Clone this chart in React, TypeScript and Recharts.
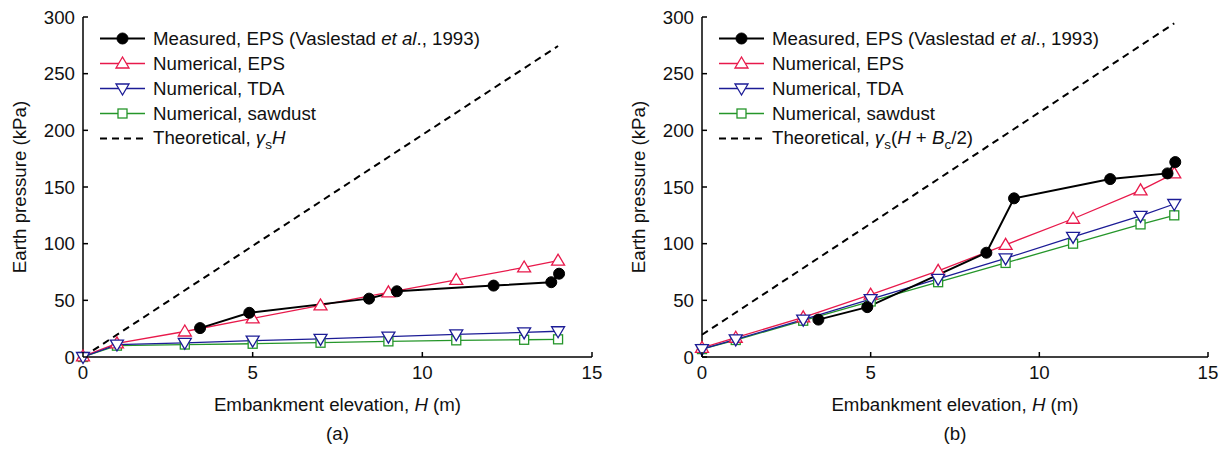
import React from "react";
import { LineChart, Line, XAxis, YAxis, Legend } from "recharts";

// elevations used by the numerical runs (m)
const numX = [0, 1, 3, 5, 7, 9, 11, 13, 14];
// field measurements, elevations (m)
const measX = [3.45, 4.9, 8.43, 9.25, 12.1, 13.8, 14.03];

// panel (a) – earth pressure (kPa)
const measA = [25.5, 39, 51.5, 58, 63, 66, 73.5];
const epsA = [0.5, 12, 22.5, 34, 45.5, 57, 68, 79, 85];
const tdaA = [0, 11, 12.5, 14.5, 16, 18, 20, 21.7, 22.7];
const sawA = [0, 10, 11, 11.7, 12.6, 13.8, 14.7, 15.2, 15.6];
const theoryAX = [0, 14];
const theoryAY = [0, 274.4];

// panel (b)
const measB = [33, 44, 92, 140, 157, 162, 172];
const epsB = [8, 17, 35, 55, 76, 99, 122, 147, 162];
const tdaB = [7, 15.5, 33, 51, 69, 87, 106, 124.5, 135];
const sawB = [7, 15, 32, 49, 66, 83, 100, 117, 125];
const theoryBX = [0, 14];
const theoryBY = [19.6, 294.4];

const xTicks = [0, 5, 10, 15];
const yTicks = [0, 50, 100, 150, 200, 250, 300];

const RED = "#e8194b";
const BLUE = "#1c1c96";
const GREEN = "#25962a";
const INK = "#111";
const FONT = "'Liberation Sans', Arial, sans-serif";
const FS = 18.7;

const pts = (xs: number[], ys: number[]) => xs.map((x, i) => ({ x, y: ys[i] }));

function Marker({ kind, cx, cy, color }: { kind: string; cx: number; cy: number; color: string }) {
  if (kind === "circle") return <circle cx={cx} cy={cy} r={5.5} fill="#000" stroke="#000" />;
  if (kind === "up")
    return (
      <polygon
        points={`${cx},${cy - 6.5} ${cx - 6.5},${cy + 4.5} ${cx + 6.5},${cy + 4.5}`}
        fill="#fff"
        stroke={color}
        strokeWidth={1.3}
      />
    );
  if (kind === "down")
    return (
      <polygon
        points={`${cx},${cy + 6.5} ${cx - 6.5},${cy - 4.5} ${cx + 6.5},${cy - 4.5}`}
        fill="#fff"
        stroke={color}
        strokeWidth={1.3}
      />
    );
  return <rect x={cx - 4.5} y={cy - 4.5} width={9} height={9} fill="#fff" stroke={color} strokeWidth={1.3} />;
}

const dot = (kind: string, color: string) => (p: any) => {
  if (p.cx == null || p.cy == null) return <g key={p.index} />;
  return <Marker key={p.index} kind={kind} cx={p.cx} cy={p.cy} color={color} />;
};

const YTick = (p: any) => (
  <g>
    <text x={p.x} y={p.y} textAnchor="end" dominantBaseline="central" fontSize={FS} fontFamily={FONT} fill={INK}>
      {p.payload.value}
    </text>
    <line x1={p.x + 8} x2={p.x + 13} y1={p.y} y2={p.y} stroke="#000" strokeWidth={1.5} />
  </g>
);

const XTick = (p: any) => (
  <g>
    <text x={p.x} y={p.y} dy="0.71em" textAnchor="middle" fontSize={FS} fontFamily={FONT} fill={INK}>
      {p.payload.value}
    </text>
    <line x1={p.x} x2={p.x} y1={p.y - 9} y2={p.y - 14} stroke="#000" strokeWidth={1.5} />
  </g>
);

const Sub = ({ children }: { children: React.ReactNode }) => (
  <span style={{ fontSize: 13.5, position: "relative", top: 5 }}>{children}</span>
);

function LegendBox({ theory }: { theory: React.ReactNode }) {
  const rows = [
    { kind: "circle", color: "#000", w: 2, dash: "", text: <>Measured, EPS (Vaslestad <i>et al</i>., 1993)</> },
    { kind: "up", color: RED, w: 1.3, dash: "", text: <>Numerical, EPS</> },
    { kind: "down", color: BLUE, w: 1.3, dash: "", text: <>Numerical, TDA</> },
    { kind: "square", color: GREEN, w: 1.3, dash: "", text: <>Numerical, sawdust</> },
    { kind: "none", color: "#000", w: 2, dash: "7 5", text: theory },
  ];
  return (
    <div style={{ fontFamily: FONT, fontSize: FS, color: INK }}>
      {rows.map((r, i) => (
        <div key={i} style={{ display: "flex", alignItems: "center", height: 25, whiteSpace: "nowrap" }}>
          <svg width={46} height={25} style={{ flex: "none" }}>
            <line x1={0} x2={45} y1={12.5} y2={12.5} stroke={r.color} strokeWidth={r.w} strokeDasharray={r.dash || undefined} />
            {r.kind !== "none" && <Marker kind={r.kind} cx={22.5} cy={12.5} color={r.color} />}
          </svg>
          <span style={{ marginLeft: 7, lineHeight: "25px" }}>{r.text}</span>
        </div>
      ))}
    </div>
  );
}

function Panel({
  meas, eps, tda, saw, thX, thY, tag, theory, yAxisW, rightM, legendLeft,
}: any) {
  const xTitle = (p: any) => {
    const vb = p.viewBox;
    const cx = vb.x + vb.width / 2;
    return (
      <g fontFamily={FONT} fontSize={FS} fill={INK}>
        <text x={cx} y={vb.y + 47} textAnchor="middle" dominantBaseline="central">
          Embankment elevation, <tspan fontStyle="italic">H</tspan> (m)
        </text>
        <text x={cx} y={vb.y + 76} textAnchor="middle" dominantBaseline="central">
          ({tag})
        </text>
      </g>
    );
  };
  const yTitle = (p: any) => {
    const vb = p.viewBox;
    const cx = vb.x + vb.width - 64;
    const cy = vb.y + vb.height / 2;
    return (
      <text
        x={cx}
        y={cy}
        transform={`rotate(-90 ${cx} ${cy})`}
        textAnchor="middle"
        dominantBaseline="central"
        fontFamily={FONT}
        fontSize={FS}
        fill={INK}
      >
        Earth pressure (kPa)
      </text>
    );
  };
  return (
    <LineChart width={611} height={450} margin={{ top: 17, right: rightM, bottom: 0, left: 0 }}>
      <XAxis
        type="number"
        dataKey="x"
        domain={[0, 15]}
        ticks={xTicks}
        height={93}
        tickSize={0}
        tickMargin={9}
        tickLine={false}
        tick={<XTick />}
        axisLine={{ stroke: "#000", strokeWidth: 1.5 }}
        label={xTitle}
      />
      <YAxis
        type="number"
        domain={[0, 300]}
        ticks={yTicks}
        width={yAxisW}
        tickSize={0}
        tickMargin={8}
        tickLine={false}
        tick={<YTick />}
        axisLine={{ stroke: "#000", strokeWidth: 1.5 }}
        label={yTitle}
      />
      <Legend
        layout="vertical"
        align="center"
        verticalAlign="middle"
        wrapperStyle={{ left: legendLeft, top: 26, width: "auto" }}
        content={() => <LegendBox theory={theory} />}
      />
      <Line data={pts(thX, thY)} dataKey="y" stroke="#000" strokeWidth={2} strokeDasharray="7 5" dot={false} isAnimationActive={false} />
      <Line data={pts(numX, saw)} dataKey="y" stroke={GREEN} strokeWidth={1.3} dot={dot("square", GREEN)} isAnimationActive={false} />
      <Line data={pts(numX, eps)} dataKey="y" stroke={RED} strokeWidth={1.3} dot={dot("up", RED)} isAnimationActive={false} />
      <Line data={pts(numX, tda)} dataKey="y" stroke={BLUE} strokeWidth={1.3} dot={dot("down", BLUE)} isAnimationActive={false} />
      <Line data={pts(measX, meas)} dataKey="y" stroke="#000" strokeWidth={2} dot={dot("circle", "#000")} isAnimationActive={false} />
    </LineChart>
  );
}

export default function App() {
  return (
    <div style={{ position: "absolute", left: 0, top: 0, width: 1222, height: 450, background: "#fff", display: "flex" }}>
      <Panel
        meas={measA}
        eps={epsA}
        tda={tdaA}
        saw={sawA}
        thX={theoryAX}
        thY={theoryAY}
        tag="a"
        yAxisW={83}
        rightM={19}
        legendLeft={100}
        theory={
          <>
            Theoretical, <i>γ</i>
            <Sub>s</Sub>
            <i>H</i>
          </>
        }
      />
      <Panel
        meas={measB}
        eps={epsB}
        tda={tdaB}
        saw={sawB}
        thX={theoryBX}
        thY={theoryBY}
        tag="b"
        yAxisW={91}
        rightM={14}
        legendLeft={108}
        theory={
          <>
            Theoretical, <i>γ</i>
            <Sub>s</Sub>(<i>H</i> + <i>B</i>
            <Sub>c</Sub>/2)
          </>
        }
      />
    </div>
  );
}
